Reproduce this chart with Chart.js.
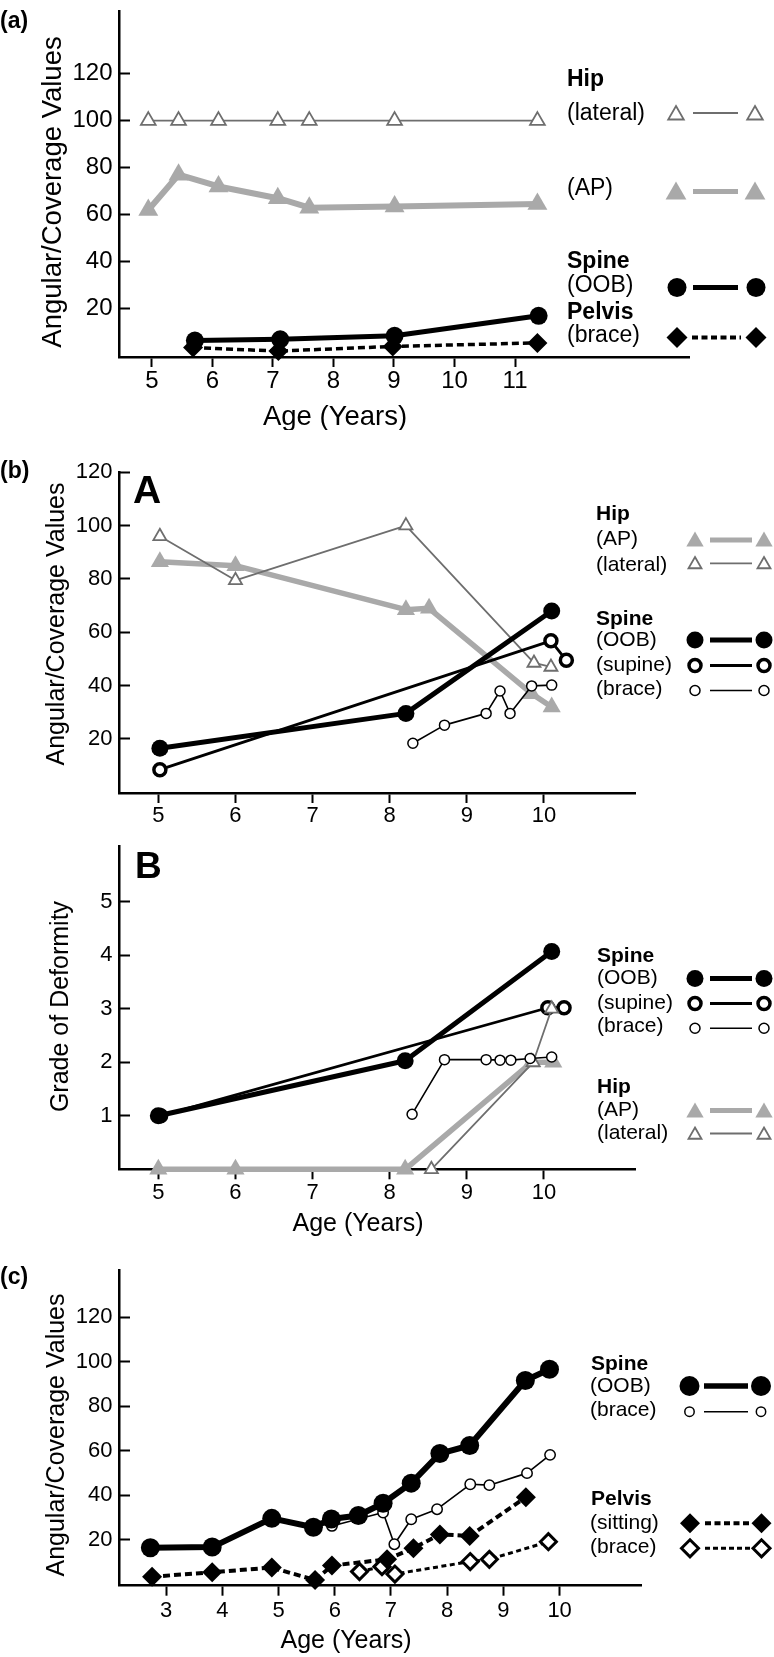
<!DOCTYPE html>
<html>
<head>
<meta charset="utf-8">
<script src="https://cdn.jsdelivr.net/npm/chart.js@4.4.0/dist/chart.umd.min.js"></script>
<style>
  html, body { margin: 0; padding: 0; background: #fff; }
  #wrap { position: relative; width: 774px; height: 1657px; overflow: hidden; }
  canvas { position: absolute; left: 0; }
</style>
</head>
<body>
<div id="wrap">
  <canvas id="chartA" width="774" height="430" style="top:0px;width:774px;height:430px"></canvas>
  <canvas id="chartB1" width="774" height="400" style="top:430px;width:774px;height:400px"></canvas>
  <canvas id="chartB2" width="774" height="420" style="top:830px;width:774px;height:420px"></canvas>
  <canvas id="chartC" width="774" height="407" style="top:1250px;width:774px;height:407px"></canvas>
</div>
<script>
// ---- values ----
// (a)
const aHipAge = [4.94, 5.44, 6.10, 7.08, 7.60, 9.01, 11.37];
const aHipLateral = [100, 100, 100, 100, 100, 100, 100];
const aHipAP = [62, 77, 72, 67, 63, 63.5, 64.5];
const aSpineAge = [5.71, 7.12, 9.01, 11.39];
const aSpineOOB = [6.5, 7, 8.5, 17];
const aPelvisAge = [5.68, 7.09, 8.98, 11.37];
const aPelvisBrace = [3.5, 2, 4, 5.5];
const aXTicks = [5, 6, 7, 8, 9, 10, 11];
const aYTicks = [20, 40, 60, 80, 100, 120];

// (b) A - angular/coverage values
const bApAge = [5.02, 6.0, 8.21, 8.51, 9.84, 10.1];
const bHipAP = [86.5, 85, 68.5, 69, 37, 32];
const bLatAge = [5.02, 6.0, 8.21, 9.87, 10.09];
const bHipLateral = [96, 79.5, 100, 48.5, 47];
const bOobAge = [5.02, 8.21, 10.1];
const bSpineOOB = [16.5, 29.6, 68];
const bSupAge = [5.02, 10.09, 10.29];
const bSpineSupine = [8.5, 56.8, 49.5];
const bBraceAge = [8.30, 8.71, 9.25, 9.43, 9.56, 9.84, 10.1];
const bSpineBrace = [18.4, 25.2, 29.6, 38, 29.6, 39.9, 40.2];
const bXTicks = [5, 6, 7, 8, 9, 10];
const bYTicks = [20, 40, 60, 80, 100, 120];

// (b) B - grade of deformity
const gOobAge = [5.0, 8.2, 10.1];
const gSpineOOB = [1.0, 2.03, 4.07];
const gSupAge = [5.03, 10.05, 10.26];
const gSpineSupine = [1.0, 3.02, 3.02];
const gBraceAge = [8.29, 8.71, 9.25, 9.43, 9.57, 9.82, 10.1];
const gSpineBrace = [1.03, 2.05, 2.05, 2.04, 2.04, 2.07, 2.1];
const gApAge = [5.0, 6.0, 8.2, 9.84, 10.12];
const gHipAP = [0, 0, 0, 2, 2];
const gLatAge = [8.54, 9.86, 10.1];
const gHipLateral = [0, 2, 3];
const gYTicks = [1, 2, 3, 4, 5];

// (c)
const cOobAge = [2.72, 3.82, 4.88, 5.62, 5.94, 6.42, 6.86, 7.36, 7.87, 8.40, 9.39, 9.82];
const cSpineOOB = [16.5, 16.8, 29.7, 25.7, 29.4, 31, 36.5, 45.5, 58.8, 62.4, 91.6, 96.6];
const cBraceAge = [5.95, 6.86, 7.06, 7.36, 7.82, 8.41, 8.75, 9.42, 9.83];
const cSpineBrace = [26.3, 32.3, 18.1, 29.3, 33.8, 45, 44.6, 50, 58.2];
const cSitAge = [2.75, 3.82, 4.88, 5.65, 5.95, 6.93, 7.40, 7.87, 8.40, 9.40];
const cPelvisSitting = [3.5, 5.5, 7.6, 2, 8.5, 11.3, 16.3, 22.5, 21.8, 39.2];
const cPBraceAge = [6.44, 6.84, 7.07, 8.41, 8.75, 9.80];
const cPelvisBrace = [5.8, 8, 4.7, 10.3, 11.3, 19.2];
const cXTicks = [3, 4, 5, 6, 7, 8, 9, 10];
const cYTicks = [20, 40, 60, 80, 100, 120];

const FONT = '"Liberation Sans", Arial, Helvetica, sans-serif';
const LIGHT = '#a9a9a9';
const DARK = '#6e6e6e';

// marker / line styles
function hipLat(r) { return { shape: 'triangle', r: r, fill: '#fff', stroke: DARK, bw: 1.8, line: DARK, lw: 1.8 }; }
function hipAP(r, lw) { return { shape: 'triangle', r: r, fill: LIGHT, stroke: LIGHT, bw: 0, line: LIGHT, lw: lw }; }
function spineOOB(r, lw) { return { shape: 'circle', r: r, fill: '#000', stroke: '#000', bw: 0, line: '#000', lw: lw }; }
function spineSupine(r) { return { shape: 'circle', r: r, fill: '#fff', stroke: '#000', bw: 3.5, line: '#000', lw: 2.8 }; }
function spineBrace(r) { return { shape: 'circle', r: r, fill: '#fff', stroke: '#000', bw: 1.5, line: '#000', lw: 1.6 }; }
function pelvisFull(r, lw) { return { shape: 'rectRot', r: r, fill: '#000', stroke: '#000', bw: 0, line: '#000', lw: lw, dash: [7, 4] }; }
function pelvisOpen(r) { return { shape: 'rectRot', r: r, fill: '#fff', stroke: '#000', bw: 3, line: '#000', lw: 3, dash: [5, 3.5] }; }

function series(xs, ys, st) {
  return {
    data: xs.map((x, i) => ({ x: x, y: ys[i] })),
    borderColor: st.line,
    borderWidth: st.lw,
    borderDash: st.dash || [],
    borderJoinStyle: 'round',
    tension: 0,
    fill: false,
    clip: false,
    pointStyle: st.shape,
    pointRadius: st.r,
    pointHoverRadius: st.r,
    pointBackgroundColor: st.fill,
    pointBorderColor: st.stroke,
    pointBorderWidth: st.bw,
    pointHoverBorderWidth: st.bw
  };
}

// ---- overlay helpers (legend + texts) ----
function txt(ctx, s, x, y, size, o) {
  o = o || {};
  ctx.save();
  ctx.font = (o.bold ? 'bold ' : '') + size + 'px ' + FONT;
  ctx.fillStyle = '#000';
  ctx.textAlign = o.align || 'left';
  ctx.textBaseline = 'alphabetic';
  if (o.rot) {
    ctx.translate(x, y);
    ctx.rotate(-Math.PI / 2);
    ctx.fillText(s, 0, 0);
  } else {
    ctx.fillText(s, x, y);
  }
  ctx.restore();
}

function drawSym(ctx, st, x, y) {
  const r = st.r;
  ctx.save();
  ctx.beginPath();
  if (st.shape === 'circle') {
    ctx.arc(x, y, r, 0, Math.PI * 2);
  } else if (st.shape === 'triangle') {
    for (let k = 0; k < 3; k++) {
      const a = -Math.PI / 2 + k * 2 * Math.PI / 3;
      if (k === 0) ctx.moveTo(x + Math.cos(a) * r, y + Math.sin(a) * r);
      else ctx.lineTo(x + Math.cos(a) * r, y + Math.sin(a) * r);
    }
    ctx.closePath();
  } else {
    ctx.moveTo(x - r, y);
    ctx.lineTo(x, y - r);
    ctx.lineTo(x + r, y);
    ctx.lineTo(x, y + r);
    ctx.closePath();
  }
  ctx.fillStyle = st.fill;
  ctx.fill();
  if (st.bw > 0) {
    ctx.lineWidth = st.bw;
    ctx.strokeStyle = st.stroke;
    ctx.stroke();
  }
  ctx.restore();
}

function legendItem(ctx, st, y, sx1, sx2, lx1, lx2, ly) {
  ctx.save();
  ctx.strokeStyle = st.line;
  ctx.lineWidth = st.lw;
  ctx.setLineDash(st.dash || []);
  ctx.beginPath();
  ctx.moveTo(lx1, ly === undefined ? y : ly);
  ctx.lineTo(lx2, ly === undefined ? y : ly);
  ctx.stroke();
  ctx.restore();
  drawSym(ctx, st, sx1, y);
  drawSym(ctx, st, sx2, y);
}

function overlay(top, fn) {
  return {
    id: 'overlay',
    afterDraw(chart) {
      const ctx = chart.ctx;
      ctx.save();
      ctx.translate(0, -top);
      fn(ctx);
      ctx.restore();
    }
  };
}

// chart with a fixed plot area (page coordinates)
function makeChart(id, top, H, area, xAxis, yAxis, datasets, tickSize, fn) {
  const W = 774;
  const aTop = area.top - top;
  const aBottom = area.bottom - top;
  return new Chart(document.getElementById(id), {
    type: 'line',
    data: { datasets: datasets },
    options: {
      responsive: false,
      animation: false,
      devicePixelRatio: 1,
      events: [],
      layout: { padding: { left: 0, top: aTop, right: W - area.right, bottom: 0 } },
      plugins: { legend: { display: false }, tooltip: { enabled: false } },
      scales: {
        x: {
          type: 'linear',
          min: xAxis.min,
          max: xAxis.max,
          afterBuildTicks: s => { s.ticks = xAxis.ticks.map(v => ({ value: v })); },
          afterFit: s => { s.height = H - aBottom; s.paddingLeft = 0; s.paddingRight = 0; },
          border: { display: true, color: '#000', width: 2.5 },
          grid: { drawOnChartArea: false, drawTicks: true, tickLength: 10, tickWidth: 2, tickColor: '#000' },
          ticks: {
            color: '#000', font: { family: FONT, size: tickSize }, padding: xAxis.pad,
            maxRotation: 0, autoSkip: false, callback: v => String(v)
          }
        },
        y: {
          type: 'linear',
          min: yAxis.min,
          max: yAxis.max,
          afterBuildTicks: s => { s.ticks = yAxis.ticks.map(v => ({ value: v })); },
          afterFit: s => { s.width = area.left; s.paddingTop = 0; s.paddingBottom = 0; },
          border: { display: true, color: '#000', width: 2.5 },
          grid: { drawOnChartArea: false, drawTicks: true, tickLength: -11, tickWidth: 2, tickColor: '#000' },
          ticks: {
            color: '#000', font: { family: FONT, size: tickSize }, padding: 17.5,
            autoSkip: false, callback: v => String(v)
          }
        }
      }
    },
    plugins: [overlay(top, fn)]
  });
}

// ---- panel (a) ----
const A_LAT = hipLat(8.5), A_AP = hipAP(11.5, 6), A_OOB = spineOOB(9, 5), A_PEL = pelvisFull(10, 3.5);
makeChart('chartA', 0, 430,
  { left: 119, right: 689, top: 0, bottom: 357 },
  { min: 4.456, max: 13.875, ticks: aXTicks, pad: 0 },
  { min: -0.5, max: 146.4, ticks: aYTicks },
  [
    series(aSpineAge, aSpineOOB, A_OOB),
    series(aPelvisAge, aPelvisBrace, A_PEL),
    series(aHipAge, aHipAP, A_AP),
    series(aHipAge, aHipLateral, A_LAT)
  ], 24,
  function (ctx) {
    txt(ctx, '(a)', 0, 28, 23, { bold: true });
    txt(ctx, 'Angular/Coverage Values', 60.5, 192, 27.5, { rot: true, align: 'center' });
    txt(ctx, 'Age (Years)', 335, 425, 27.5, { align: 'center' });
    txt(ctx, 'Hip', 567, 86, 23, { bold: true });
    txt(ctx, '(lateral)', 567, 120, 23);
    legendItem(ctx, hipLat(9), 115, 676, 755, 693, 738, 113);
    txt(ctx, '(AP)', 567, 195, 23);
    legendItem(ctx, hipAP(12, 5), 193.5, 676, 755, 693, 738, 191.5);
    txt(ctx, 'Spine', 567, 268, 23, { bold: true });
    txt(ctx, '(OOB)', 567, 292, 23);
    legendItem(ctx, spineOOB(9.5, 5), 287.5, 677, 756, 693, 738);
    txt(ctx, 'Pelvis', 567, 319, 23, { bold: true });
    txt(ctx, '(brace)', 567, 342, 23);
    const p = pelvisFull(10.5, 4); p.dash = [6, 3.5];
    legendItem(ctx, p, 337.5, 677, 756, 692, 741);
  });

// ---- panel (b) A ----
makeChart('chartB1', 430, 400,
  { left: 119, right: 635, top: 472.3, bottom: 793 },
  { min: 4.49, max: 11.18, ticks: bXTicks, pad: 0 },
  { min: -0.25, max: 120, ticks: bYTicks },
  [
    series(bOobAge, bSpineOOB, spineOOB(8.5, 5)),
    series(bSupAge, bSpineSupine, spineSupine(6)),
    series(bBraceAge, bSpineBrace, spineBrace(5)),
    series(bLatAge, bHipLateral, hipLat(7.5)),
    series(bApAge, bHipAP, hipAP(10.5, 5.5))
  ], 22,
  function (ctx) {
    txt(ctx, '(b)', 0, 478, 23, { bold: true });
    txt(ctx, 'A', 133, 503, 39, { bold: true });
    txt(ctx, 'Angular/Coverage Values', 64, 624, 25, { rot: true, align: 'center' });
    txt(ctx, 'Hip', 596, 520, 21, { bold: true });
    txt(ctx, '(AP)', 596, 545, 21);
    legendItem(ctx, hipAP(10, 5), 541.5, 695, 764, 710, 752, 540);
    txt(ctx, '(lateral)', 596, 570.5, 21);
    legendItem(ctx, hipLat(7.5), 564.5, 695, 764, 710, 752, 563.3);
    txt(ctx, 'Spine', 596, 625, 21, { bold: true });
    txt(ctx, '(OOB)', 596, 645.5, 21);
    legendItem(ctx, spineOOB(8.5, 5), 640, 695, 764, 710, 752);
    txt(ctx, '(supine)', 596, 670.5, 21);
    legendItem(ctx, spineSupine(6), 665.5, 695, 764, 710, 752);
    txt(ctx, '(brace)', 596, 695, 21);
    legendItem(ctx, spineBrace(5), 690.5, 695, 764, 710, 752);
  });

// ---- panel (b) B ----
makeChart('chartB2', 830, 420,
  { left: 119, right: 635, top: 846.7, bottom: 1169.3 },
  { min: 4.49, max: 11.18, ticks: bXTicks, pad: 0 },
  { min: 0, max: 6.03, ticks: gYTicks },
  [
    series(gOobAge, gSpineOOB, spineOOB(8.5, 5)),
    series(gBraceAge, gSpineBrace, spineBrace(5)),
    series(gLatAge, gHipLateral, hipLat(7.5)),
    series(gSupAge, gSpineSupine, spineSupine(6)),
    series(gApAge, gHipAP, hipAP(10.5, 5.5))
  ], 22,
  function (ctx) {
    txt(ctx, 'B', 135, 878, 37, { bold: true });
    txt(ctx, 'Grade of Deformity', 68, 1006.5, 25, { rot: true, align: 'center' });
    txt(ctx, 'Age (Years)', 358, 1231, 25, { align: 'center' });
    txt(ctx, 'Spine', 597, 962, 21, { bold: true });
    txt(ctx, '(OOB)', 597, 984, 21);
    legendItem(ctx, spineOOB(8.5, 5), 978.5, 695, 764, 710, 752);
    txt(ctx, '(supine)', 597, 1009, 21);
    legendItem(ctx, spineSupine(6), 1003.5, 695, 764, 710, 752);
    txt(ctx, '(brace)', 597, 1032, 21);
    legendItem(ctx, spineBrace(5), 1028.3, 695, 764, 710, 752);
    txt(ctx, 'Hip', 597, 1093, 21, { bold: true });
    txt(ctx, '(AP)', 597, 1115.5, 21);
    legendItem(ctx, hipAP(10, 5), 1112.5, 695, 764, 710, 752, 1110.5);
    txt(ctx, '(lateral)', 597, 1139, 21);
    legendItem(ctx, hipLat(7.5), 1135, 695, 764, 710, 752, 1133.5);
  });

// ---- panel (c) ----
makeChart('chartC', 1250, 407,
  { left: 119, right: 641.7, top: 1270, bottom: 1585.7 },
  { min: 2.162, max: 11.46, ticks: cXTicks, pad: 2 },
  { min: -0.54, max: 141.2, ticks: cYTicks },
  [
    series(cOobAge, cSpineOOB, spineOOB(9.5, 6)),
    series(cBraceAge, cSpineBrace, spineBrace(5.2)),
    series(cSitAge, cPelvisSitting, pelvisFull(10, 4)),
    series(cPBraceAge, cPelvisBrace, pelvisOpen(8))
  ], 22,
  function (ctx) {
    txt(ctx, '(c)', 0, 1284, 23, { bold: true });
    txt(ctx, 'Angular/Coverage Values', 64, 1435, 25, { rot: true, align: 'center' });
    txt(ctx, 'Age (Years)', 346, 1648, 25, { align: 'center' });
    txt(ctx, 'Spine', 591, 1370, 21, { bold: true });
    txt(ctx, '(OOB)', 590, 1392, 21);
    legendItem(ctx, spineOOB(10, 5.5), 1386, 689.5, 761, 704, 748);
    txt(ctx, '(brace)', 590, 1416, 21);
    legendItem(ctx, spineBrace(4.7), 1411.7, 689.5, 761, 704, 748);
    txt(ctx, 'Pelvis', 591, 1505, 21, { bold: true });
    txt(ctx, '(sitting)', 590, 1529, 21);
    const ps = pelvisFull(10, 4); ps.dash = [6, 3.5];
    legendItem(ctx, ps, 1523.3, 690, 761.5, 705, 750);
    txt(ctx, '(brace)', 590, 1553, 21);
    const pb = pelvisOpen(8.5); pb.dash = [5, 3];
    legendItem(ctx, pb, 1548.3, 690, 761.5, 705, 751);
  });
</script>
</body>
</html>
